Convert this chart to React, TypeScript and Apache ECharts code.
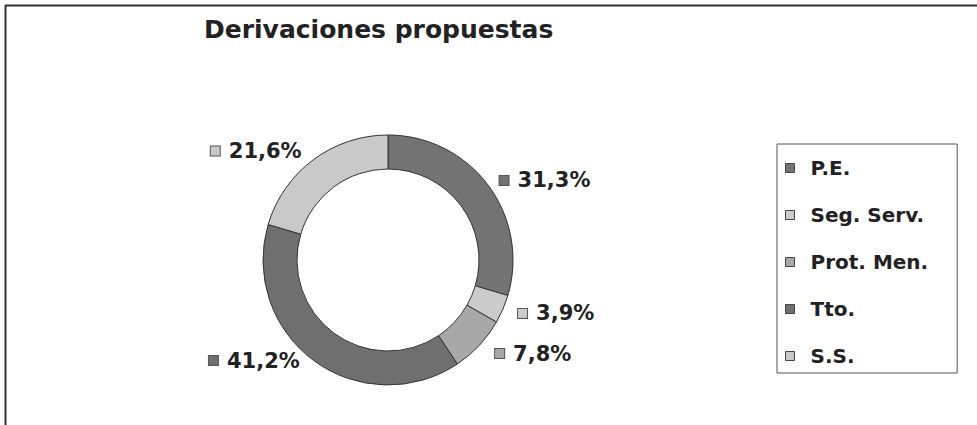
import React, { useEffect, useRef } from "react";
import * as echarts from "echarts";

const titleText = "Derivaciones propuestas";
const categories = ["P.E.", "Seg. Serv.", "Prot. Men.", "Tto.", "S.S."];
const values = [31.3, 3.9, 7.8, 41.2, 21.6];
const valueLabels = ["31,3%", "3,9%", "7,8%", "41,2%", "21,6%"];
const colors = ["#737373", "#cbcbcb", "#a8a8a8", "#6f6f6f", "#c9c9c9"];
const lineLengths = [8, 11, 12, 0, 11];
const lineLengths2 = [0, 0, 2, 9, 0];

const FONT = "DejaVu Sans";

export default function App() {
  const ref = useRef<HTMLDivElement>(null);
  useEffect(() => {
    document.body.style.margin = "0";
    if (!ref.current) return;
    const chart = echarts.init(ref.current, null, { renderer: "svg" });
    const data = categories.map((name, i) => ({
      name,
      value: values[i],
      itemStyle: { color: colors[i] },
      labelLine: { show: false, length: lineLengths[i], length2: lineLengths2[i] },
      label: {
        formatter: "{sq|}{t|" + valueLabels[i] + "}",
        rich: {
          sq: {
            width: 9,
            height: 9,
            backgroundColor: colors[i],
            borderColor: "#555",
            borderWidth: 1,
          },
          t: {
            fontFamily: FONT,
            fontWeight: "bold",
            fontSize: 21,
            color: "#222",
            padding: [0, 0, 0, 9],
          },
        },
      },
    }));
    chart.setOption({
      animation: false,
      backgroundColor: "#ffffff",
      title: {
        text: titleText,
        left: 204,
        top: 17,
        padding: 0,
        textStyle: {
          fontFamily: FONT,
          fontWeight: "bold",
          fontSize: 25,
          color: "#222",
        },
      },
      legend: {
        orient: "vertical",
        left: 777,
        top: 144,
        padding: [14, 29, 7, 8],
        itemGap: 27,
        itemWidth: 9,
        itemHeight: 9,
        icon: "rect",
        borderColor: "#555",
        borderWidth: 1,
        backgroundColor: "#fff",
        itemStyle: { borderColor: "#444", borderWidth: 1 },
        textStyle: {
          fontFamily: FONT,
          fontWeight: "bold",
          fontSize: 20,
          color: "#222",
          padding: [0, 0, 0, 11],
        },
        data: categories,
      },
      graphic: [
        {
          type: "line",
          shape: { x1: 5, y1: 5.5, x2: 977, y2: 5.5 },
          style: { stroke: "#333", lineWidth: 2 },
        },
        {
          type: "line",
          shape: { x1: 5.5, y1: 5, x2: 5.5, y2: 425 },
          style: { stroke: "#333", lineWidth: 2 },
        },
      ],
      series: [
        {
          type: "pie",
          center: [388, 260],
          radius: [91, 125],
          startAngle: 90,
          clockwise: true,
          avoidLabelOverlap: false,
          itemStyle: { borderColor: "#333", borderWidth: 1 },
          label: { show: true, position: "outside" },
          labelLine: { show: false, length: 11, length2: 0 },
          emphasis: { disabled: true },
          data,
        },
      ],
    });
    return () => chart.dispose();
  }, []);
  return <div ref={ref} style={{ width: 977, height: 425 }} />;
}
